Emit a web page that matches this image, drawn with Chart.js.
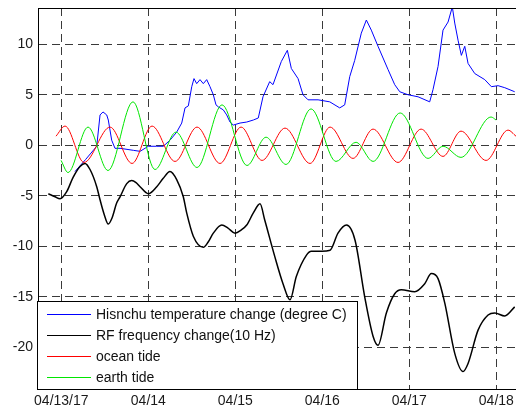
<!DOCTYPE html>
<html>
<head>
<meta charset="utf-8">
<script src="https://cdn.jsdelivr.net/npm/chart.js@4.4.1/dist/chart.umd.min.js"></script>
<style>
  html, body { margin: 0; padding: 0; background: #fff; }
  #wrap { width: 516px; height: 409px; position: relative; }
</style>
</head>
<body>
<div id="wrap"><canvas id="c" width="516" height="409"></canvas></div>
<script>
// ---- tick labels ----
const dayTicks = [0, 1, 2, 3, 4, 5];
const dayLabels = ['04/13/17', '04/14', '04/15', '04/16', '04/17', '04/18'];
const valueTicks = [-20, -15, -10, -5, 0, 5, 10];

// ---- series labels ----
const seriesNames = ['Hisnchu temperature change (degree C)', 'RF frequency change(10 Hz)', 'ocean tide', 'earth tide'];

// ---- temperature (days since 04/13/17, degree C) ----
const tempDays = [0.157,0.280,0.407,0.445,0.479,0.522,0.540,0.579,0.617,0.675,0.828,0.905,1.000,1.097,1.172,1.249,1.326,1.384,1.422,1.460,1.499,1.525,1.556,1.594,1.632,1.671,1.709,1.747,1.778,1.805,1.862,1.901,1.939,1.977,2.054,2.131,2.207,2.264,2.318,2.395,2.433,2.529,2.598,2.644,2.721,2.778,2.836,2.951,3.085,3.200,3.257,3.315,3.372,3.448,3.506,3.563,3.640,3.755,3.832,3.890,3.985,4.100,4.234,4.272,4.330,4.387,4.445,4.494,4.522,4.560,4.598,4.637,4.675,4.752,4.867,4.943,5.020,5.097,5.211];
const tempValues = [-2.6,-1.4,-0.1,3.0,3.3,3.0,2.5,0.5,-0.3,-0.3,-0.5,-0.6,-0.1,-0.1,-0.1,0.5,1.3,2.2,3.7,3.9,5.8,6.6,6.1,6.5,6.1,6.5,5.8,5.0,4.0,3.8,3.5,3.0,2.3,2.0,2.2,2.3,2.5,2.7,4.8,6.3,6.0,8.3,9.4,7.6,6.6,5.0,4.5,4.5,4.3,3.7,4.0,6.8,8.4,11.1,12.4,11.4,9.8,7.5,6.0,5.3,5.0,4.8,4.3,5.5,7.8,11.4,12.2,13.7,12.1,10.4,8.9,9.8,8.1,7.1,6.5,5.8,5.9,5.7,5.3];

// ---- RF frequency change (10 Hz units) ----
const rfDays = [-0.149,-0.072,-0.015,0.062,0.134,0.215,0.272,0.330,0.407,0.445,0.491,0.540,0.583,0.637,0.675,0.752,0.809,0.859,0.905,1.000,1.097,1.169,1.249,1.326,1.402,1.441,1.517,1.632,1.686,1.747,1.844,1.916,1.997,2.066,2.131,2.207,2.284,2.338,2.453,2.548,2.629,2.701,2.816,2.874,2.993,3.089,3.180,3.278,3.376,3.487,3.583,3.640,3.736,3.832,3.908,4.062,4.177,4.253,4.330,4.407,4.522,4.617,4.675,4.790,4.905,4.982,5.097,5.211];
const rfValues = [-4.8,-5.1,-5.3,-4.6,-3.2,-2.1,-1.8,-2.4,-4.1,-5.4,-6.8,-7.8,-7.2,-5.7,-5.1,-3.8,-3.5,-3.7,-4.1,-4.8,-4.1,-3.3,-2.6,-3.4,-5.1,-6.7,-9.0,-10.1,-9.6,-8.7,-7.9,-8.2,-8.7,-8.4,-7.9,-6.7,-5.8,-7.4,-11.0,-13.7,-15.3,-13.0,-10.9,-10.5,-10.5,-10.4,-8.7,-7.9,-9.4,-15.0,-18.9,-19.8,-16.6,-14.7,-14.3,-14.5,-13.7,-12.7,-13.2,-15.6,-20.6,-22.4,-21.6,-18.3,-16.8,-16.6,-16.9,-16.0];

// ---- ocean tide ----
const oceanDays = [-0.061,0.043,0.261,0.560,0.813,1.043,1.307,1.560,1.824,2.066,2.307,2.571,2.859,3.089,3.353,3.583,3.870,4.135,4.387,4.594,4.882,5.134,5.226];
const oceanValues = [0.9,1.9,-1.7,1.8,-1.8,1.9,-1.6,1.8,-1.8,1.8,-1.5,1.7,-1.8,1.8,-1.3,1.6,-1.7,1.6,-1.1,1.4,-1.5,1.5,0.9];

// ---- earth tide ----
const earthDays = [-0.003,0.077,0.307,0.537,0.824,1.077,1.318,1.560,1.847,2.134,2.353,2.583,2.870,3.157,3.388,3.583,3.894,4.215,4.387,4.594,4.939,4.997];
const earthValues = [-1.5,-2.7,1.8,-2.5,4.3,-2.4,1.3,-2.2,4.0,-2.0,0.8,-1.9,3.6,-1.6,0.3,-1.6,3.2,-1.3,-0.1,-1.2,2.8,2.5];

const pts = (xs, ys) => xs.map((x, i) => ({ x: x, y: ys[i] }));

const FONT = "'Liberation Sans', Arial, sans-serif";

const noPad = s => { s.paddingTop = 0; s.paddingBottom = 0; s.paddingLeft = 0; s.paddingRight = 0; };

const frameAndLegend = {
  id: 'frameAndLegend',
  afterDatasetsDraw(chart) {
    const { ctx, chartArea } = chart;
    ctx.save();
    // top frame line
    ctx.strokeStyle = '#000';
    ctx.lineWidth = 1;
    ctx.beginPath();
    ctx.moveTo(chartArea.left, Math.round(chartArea.top) + 0.5);
    ctx.lineTo(chartArea.right, Math.round(chartArea.top) + 0.5);
    ctx.stroke();
    // legend box
    const w = 320, h = 88;
    const bx = Math.round(chartArea.left) - 0.5;
    const by = Math.round(chartArea.bottom - h) + 0.5;
    ctx.fillStyle = '#fff';
    ctx.fillRect(bx, by, w, h);
    ctx.strokeStyle = '#000';
    ctx.strokeRect(bx, by, w, h);
    ctx.font = '14px ' + FONT;
    ctx.textBaseline = 'middle';
    ctx.textAlign = 'left';
    chart.data.datasets.forEach((ds, i) => {
      const yy = Math.round(by + 12 + i * 21.3) + 0.5;
      ctx.strokeStyle = ds.borderColor;
      ctx.lineWidth = 1;
      ctx.beginPath();
      ctx.moveTo(bx + 9.5, yy);
      ctx.lineTo(bx + 53.5, yy);
      ctx.stroke();
      ctx.fillStyle = '#111';
      ctx.fillText(ds.label, bx + 58.5, yy + 0.5);
    });
    ctx.restore();
  }
};

new Chart(document.getElementById('c'), {
  type: 'line',
  data: {
    datasets: [
      { label: seriesNames[0], data: pts(tempDays, tempValues), borderColor: '#0000ff', borderWidth: 1, pointRadius: 0, tension: 0, order: 3 },
      { label: seriesNames[1], data: pts(rfDays, rfValues), borderColor: '#000000', borderWidth: 1.5, pointRadius: 0, cubicInterpolationMode: 'monotone', order: 2 },
      { label: seriesNames[2], data: pts(oceanDays, oceanValues), borderColor: '#ff0000', borderWidth: 1, pointRadius: 0, cubicInterpolationMode: 'monotone', order: 1 },
      { label: seriesNames[3], data: pts(earthDays, earthValues), borderColor: '#00e600', borderWidth: 1, pointRadius: 0, cubicInterpolationMode: 'monotone', order: 0 }
    ]
  },
  options: {
    responsive: false,
    animation: false,
    devicePixelRatio: 1,
    layout: { padding: { top: 8, left: 0, right: 0, bottom: 0 } },
    plugins: { legend: { display: false }, tooltip: { enabled: false } },
    scales: {
      x: {
        type: 'linear',
        min: -0.268,
        max: 5.226,
        afterBuildTicks: s => { s.ticks = dayTicks.map(v => ({ value: v })); },
        afterFit: s => { s.height = 20; noPad(s); },
        ticks: {
          autoSkip: false, maxRotation: 0, padding: 4,
          color: '#1a1a1a', font: { size: 14, family: FONT },
          callback: (v, i) => dayLabels[i]
        },
        grid: { color: '#3a3a3a', lineWidth: 1, drawTicks: false },
        border: { display: true, color: '#000', width: 1, dash: [8, 5] }
      },
      y: {
        type: 'linear',
        min: -24.13,
        max: 13.59,
        afterBuildTicks: s => { s.ticks = valueTicks.map(v => ({ value: v })); },
        afterFit: s => { s.width = 38; noPad(s); },
        ticks: {
          padding: 5,
          color: '#1a1a1a', font: { size: 14, family: FONT },
          callback: v => String(v)
        },
        grid: { color: '#3a3a3a', lineWidth: 1, drawTicks: false },
        border: { display: true, color: '#000', width: 1, dash: [8, 5] }
      }
    }
  },
  plugins: [frameAndLegend]
});
</script>
</body>
</html>
